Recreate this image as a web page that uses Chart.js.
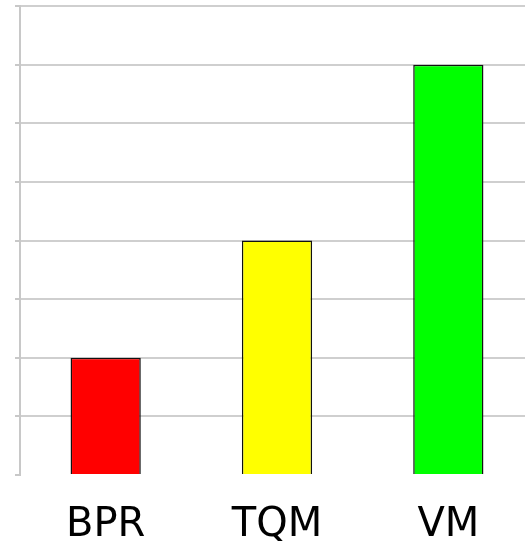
<!DOCTYPE html>
<html>
<head>
<meta charset="utf-8">
<script src="https://cdn.jsdelivr.net/npm/chart.js@4"></script>
<style>
  html, body { margin: 0; padding: 0; overflow: hidden; background: #fff; }
</style>
</head>
<body>
<canvas id="myChart" width="540" height="542"></canvas>
<script>
const LABELS = ["BPR", "TQM", "VM"];
const VALUES = [2, 4, 7];
const COLORS = ["#ff0000", "#ffff00", "#00ff00"];
const Y_MAX = 8;

const data = {
  labels: LABELS,
  datasets: [
    {
      data: VALUES,
      backgroundColor: COLORS,
      borderColor: "#111",
      borderWidth: 1.5,
      categoryPercentage: 1,
      barPercentage: 0.41,
    },
  ],
};

const config = {
  type: "bar",
  data: data,
  options: {
    responsive: false,
    animation: false,
    layout: { padding: { top: 6, right: 6, left: 15, bottom: 0 } },
    plugins: {
      legend: { display: false },
      tooltip: { enabled: false },
    },
    scales: {
      x: {
        grid: { display: false, drawTicks: false },
        border: { display: false },
        // fixed band under the plot for the big category labels
        afterFit: (scale) => { scale.height = 67; },
        ticks: {
          padding: 31,
          color: "#000",
          font: { family: "DejaVu Sans", size: 40, lineHeight: 1 },
        },
      },
      y: {
        min: 0,
        max: Y_MAX,
        ticks: { stepSize: 1, display: false },
        grid: {
          color: (ctx) => (ctx.tick && ctx.tick.value === 0 ? "rgba(0,0,0,0)" : "#cfcfcf"),
          tickColor: "#c8c8c8",
          lineWidth: 2,
          tickLength: 5,
        },
        border: { color: "#c8c8c8", width: 2 },
      },
    },
  },
};

const myChart = new Chart(document.getElementById("myChart"), config);
</script>
</body>
</html>
